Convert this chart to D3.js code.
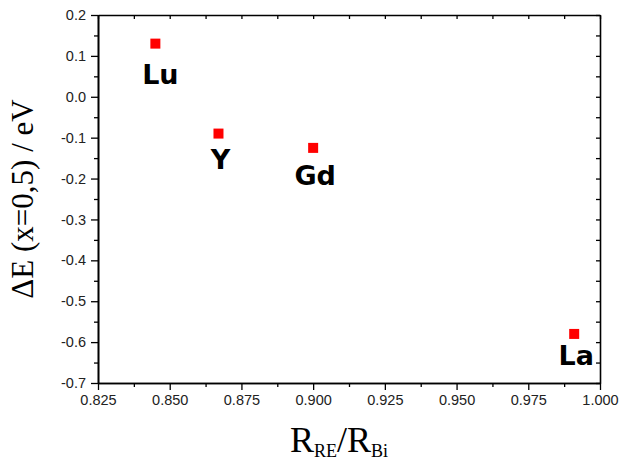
<!DOCTYPE html>
<html><head><meta charset="utf-8">
<script src="https://cdn.jsdelivr.net/npm/d3@7"></script>
<style>body{margin:0;background:#fff}svg{display:block}</style>
</head><body>
<script>
const elements = ["Lu","Y","Gd","La"];
const ratio = [0.845, 0.867, 0.900, 0.991];
const deltaE = [0.13, -0.09, -0.125, -0.58];
const xTicks = [0.825,0.850,0.875,0.900,0.925,0.950,0.975,1.000];
const yTicks = [0.2,0.1,0.0,-0.1,-0.2,-0.3,-0.4,-0.5,-0.6,-0.7];

const W=619,H=462;
const m={l:98,r:19,t:15,b:79};
const svg=d3.select("body").append("svg").attr("width",W).attr("height",H);
const x=d3.scaleLinear().domain([0.825,1.0]).range([m.l,W-m.r]);
const y=d3.scaleLinear().domain([-0.7,0.2]).range([H-m.b,m.t]);

const xMinor=d3.range(0,7).map(i=>0.8375+i*0.025);
const yMinor=d3.range(0,9).map(i=>0.15-i*0.1);
const fmtX=d3.format(".3f"), fmtY=d3.format(".1f");
const tickFont="'Liberation Sans', Arial, sans-serif";

function styleAxis(g){g.selectAll("path").attr("stroke","#000").attr("stroke-width",1.6);
 g.selectAll("line").attr("stroke","#000").attr("stroke-width",1.3);
 g.selectAll("text").attr("font-family",tickFont).attr("font-size",14.5).attr("fill","#222");}

// bottom
svg.append("g").attr("transform",`translate(0,${H-m.b})`)
 .call(d3.axisBottom(x).tickValues(xTicks).tickFormat(fmtX).tickSize(7).tickPadding(5).tickSizeOuter(0)).call(styleAxis);
svg.append("g").attr("transform",`translate(0,${H-m.b})`)
 .call(d3.axisBottom(x).tickValues(xMinor).tickFormat("").tickSize(4).tickSizeOuter(0)).call(styleAxis);
// left
svg.append("g").attr("transform",`translate(${m.l},0)`)
 .call(d3.axisLeft(y).tickValues(yTicks).tickFormat(d=>fmtY(d).replace("−","-")).tickSize(7).tickPadding(5).tickSizeOuter(0)).call(styleAxis);
svg.append("g").attr("transform",`translate(${m.l},0)`)
 .call(d3.axisLeft(y).tickValues(yMinor).tickFormat("").tickSize(4).tickSizeOuter(0)).call(styleAxis);
// top (inward)
svg.append("g").attr("transform",`translate(0,${m.t})`)
 .call(d3.axisTop(x).tickValues(xTicks.concat(xMinor)).tickFormat("").tickSize(-4).tickSizeOuter(0)).call(styleAxis);
// right (inward)
svg.append("g").attr("transform",`translate(${W-m.r},0)`)
 .call(d3.axisRight(y).tickValues(yTicks.concat(yMinor)).tickFormat("").tickSize(-4).tickSizeOuter(0)).call(styleAxis);

// points
const data=elements.map((e,i)=>({e,x:ratio[i],y:deltaE[i]}));
svg.append("g").selectAll("rect").data(data).join("rect")
 .attr("x",d=>x(d.x)-5).attr("y",d=>y(d.y)-5).attr("width",10).attr("height",10).attr("fill","#ff0000");
const off={Lu:[5,40],Y:[2,35],Gd:[2,37],La:[2,31]};
svg.append("g").selectAll("text").data(data).join("text")
 .attr("x",d=>x(d.x)+off[d.e][0]).attr("y",d=>y(d.y)+off[d.e][1])
 .attr("text-anchor","middle").attr("font-family","'DejaVu Sans', sans-serif").attr("font-weight","bold")
 .attr("font-size",27).attr("fill","#000").text(d=>d.e);

// axis titles
const serif="'Liberation Serif', 'Times New Roman', serif";
svg.append("text").attr("transform",`translate(33,${(m.t+H-m.b)/2}) rotate(-90)`)
 .attr("text-anchor","middle").attr("font-family",serif).attr("font-size",31).attr("fill","#000")
 .text("ΔE (x=0,5) / eV");
const xt=svg.append("text").attr("x",339).attr("y",452).attr("text-anchor","middle")
 .attr("font-family",serif).attr("font-size",36).attr("fill","#000");
xt.append("tspan").text("R");
xt.append("tspan").attr("font-size",18).attr("dy",5).text("RE");
xt.append("tspan").attr("dy",-5).text("/R");
xt.append("tspan").attr("font-size",18).attr("dy",5).text("Bi");
</script>
</body></html>
